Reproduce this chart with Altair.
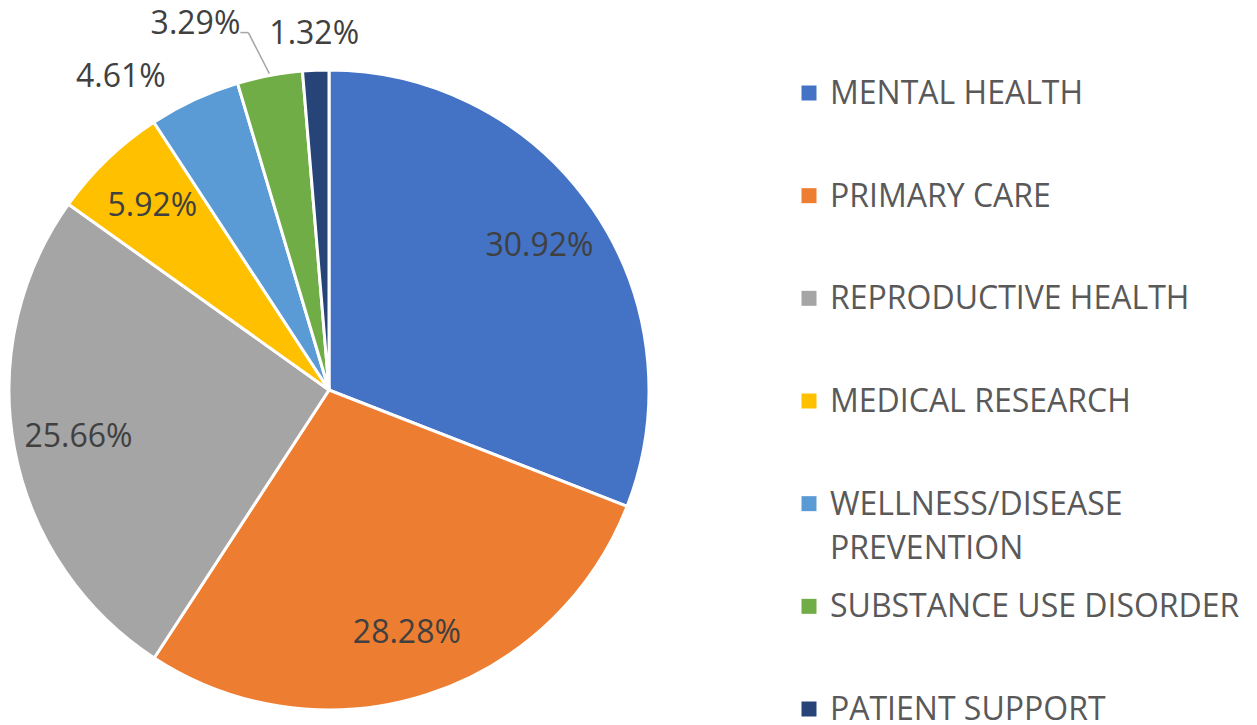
import altair as alt
import pandas as pd

categories = ["MENTAL HEALTH", "PRIMARY CARE", "REPRODUCTIVE HEALTH", "MEDICAL RESEARCH",
              "WELLNESS/DISEASE\nPREVENTION", "SUBSTANCE USE DISORDER", "PATIENT SUPPORT"]
shares = [30.92, 28.28, 25.66, 5.92, 4.61, 3.29, 1.32]
colors = ["#4472C4", "#ED7D31", "#A5A5A5", "#FFC000", "#5B9BD5", "#70AD47", "#264478"]

df = pd.DataFrame({"cat": categories, "value": shares, "idx": list(range(len(categories)))})

W, H = 1241, 717
CX, CY, R = 321, 382, 320
FONT = "Open Sans"
FS = 32

color = alt.Color("cat:N", scale=alt.Scale(domain=categories, range=colors), legend=None)

pie = alt.Chart(df).mark_arc(outerRadius=R, stroke="white", strokeWidth=3).encode(
    theta=alt.Theta("value:Q", stack=True),
    order=alt.Order("idx:Q"),
    color=color,
    x=alt.value(CX),
    y=alt.value(CY),
)

base = alt.Chart(df).transform_joinaggregate(
    total="sum(value)"
).transform_window(
    cum="sum(value)", sort=[alt.SortField("idx")], frame=[None, 0]
).transform_calculate(
    mid="(datum.cum - datum.value/2) / datum.total * 2 * PI",
    label="format(datum.value, '.2f') + '%'",
)


def at_radius(chart, r, px="px", py="py"):
    return chart.transform_calculate(**{
        px: f"{CX} + {r} * sin(datum.mid)",
        py: f"{CY} - {r} * cos(datum.mid)",
    })


def text_layer(filt, r, **kw):
    c = at_radius(base.transform_filter(filt), r)
    return c.mark_text(font=FONT, fontSize=FS, color="#404040", baseline="middle", **kw).encode(
        x=alt.X("px:Q", scale=None, axis=None),
        y=alt.Y("py:Q", scale=None, axis=None),
        text="label:N",
    )


inside = text_layer("datum.value >= 5", 255, align="center")
lab_wellness = text_layer("datum.idx == 4", 345, align="right", dx=-18)
lab_patient = text_layer("datum.idx == 6", 356, align="center")

# leader line for substance use label
lead_base = at_radius(base.transform_filter("datum.idx == 5"), 322, "ex", "ey").transform_calculate(
    kx="datum.ex - 21", ky="datum.ey - 41", hx="datum.ex - 29"
)
leader1 = lead_base.mark_rule(color="#A6A6A6", strokeWidth=1.5).encode(
    x=alt.X("ex:Q", scale=None, axis=None), y=alt.Y("ey:Q", scale=None, axis=None),
    x2="kx:Q", y2="ky:Q",
)
leader2 = lead_base.mark_rule(color="#A6A6A6", strokeWidth=1.5).encode(
    x=alt.X("kx:Q", scale=None, axis=None), y=alt.Y("ky:Q", scale=None, axis=None),
    x2="hx:Q",
)
lab_substance = lead_base.mark_text(font=FONT, fontSize=FS, color="#404040", baseline="middle",
                                    align="right", dy=-9).encode(
    x=alt.X("hx:Q", scale=None, axis=None),
    y=alt.Y("ky:Q", scale=None, axis=None),
    text="label:N",
)

ly = alt.Y("cat:N", scale=alt.Scale(type="point", domain=categories, range=[85, 701], padding=0), axis=None)
leg_sq = alt.Chart(df).mark_square(size=225, opacity=1).encode(
    x=alt.value(801), y=ly, color=color
)
leg_tx = alt.Chart(df).mark_text(font=FONT, fontSize=FS, color="#595959", align="left",
                                 baseline="alphabetic", dy=11, lineBreak="\n", lineHeight=44).encode(
    x=alt.value(822), y=ly, text="cat:N"
)

chart = alt.layer(
    pie, inside, lab_wellness, lab_patient, leader1, leader2, lab_substance, leg_sq, leg_tx
).resolve_scale(y="independent", x="independent").properties(
    width=W, height=H, padding=0, autosize=alt.AutoSizeParams(type="none")
).configure_view(stroke=None)

chart.save("out.html", embed_options={"renderer": "svg", "actions": False})
